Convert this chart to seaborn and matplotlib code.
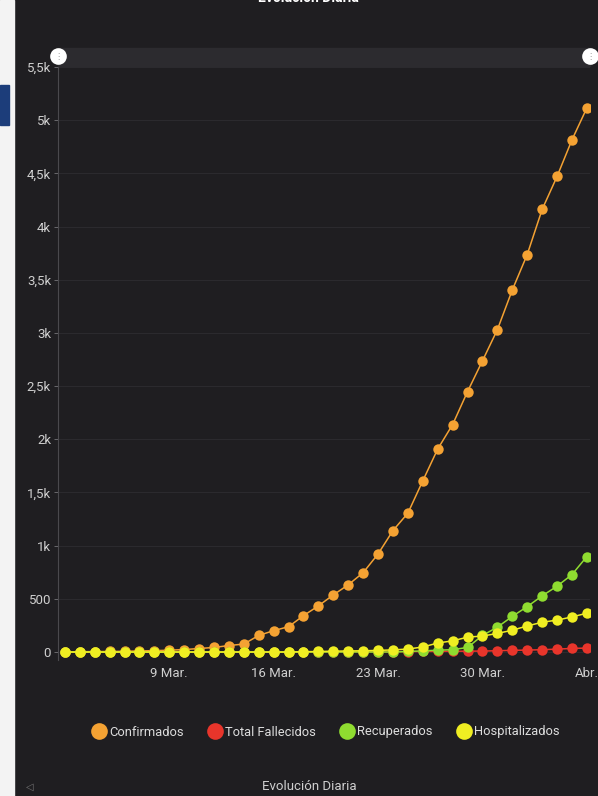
import matplotlib.pyplot as plt
import matplotlib.patches as mpatches
from matplotlib.lines import Line2D
import seaborn as sns
import pandas as pd

# daily values (2 Mar .. 6 Abr)
fechas = pd.date_range('2020-03-02', '2020-04-06', freq='D')
confirmados = [1, 3, 4, 5, 7, 10, 13, 17, 23, 33, 43, 61, 75, 156, 201, 238, 342, 434,
               537, 632, 746, 922, 1142, 1306, 1610, 1909, 2139, 2449, 2738, 3031, 3404,
               3737, 4161, 4471, 4815, 5116]
fallecidos = [0] * 18 + [1, 1, 2, 2, 3, 4, 5, 6, 7, 8, 9, 12, 16, 18, 22, 27, 34, 37]
recuperados = [0] * 23 + [5, 11, 17, 22, 43, 156, 234, 335, 427, 528, 619, 728, 898]
hospitalizados = [0] * 16 + [3, 5, 8, 10, 12, 15, 20, 28, 47, 85, 105, 140, 150, 175,
                             205, 245, 280, 300, 330, 365]

series = ['Confirmados', 'Total Fallecidos', 'Recuperados', 'Hospitalizados']
colores = ['#f4a233', '#e8352b', '#8fdc30', '#f0ee22']

yticks = list(range(0, 5501, 500))
ylabels = ['0', '500', '1k', '1,5k', '2k', '2,5k', '3k', '3,5k', '4k', '4,5k', '5k', '5,5k']
xticks = pd.to_datetime(['2020-03-09', '2020-03-16', '2020-03-23', '2020-03-30', '2020-04-06'])
xlabels = ['9 Mar.', '16 Mar.', '23 Mar.', '30 Mar.', 'Abr.']

df = pd.DataFrame({'fecha': fechas, 'Confirmados': confirmados,
                   'Total Fallecidos': fallecidos, 'Recuperados': recuperados,
                   'Hospitalizados': hospitalizados})
df = df.melt(id_vars='fecha', var_name='serie', value_name='casos')

bg = '#1f1e21'
sns.set_theme(style='dark')
plt.rcParams['font.family'] = ['Roboto', 'DejaVu Sans']

W, H = 598, 796
fig = plt.figure(figsize=(W / 100, H / 100), dpi=100)
fig.patch.set_facecolor(bg)
ax = fig.add_axes([58 / W, 1 - 660 / H, (590 - 58) / W, (660 - 67) / H])
ax.set_facecolor(bg)

sns.lineplot(data=df, x='fecha', y='casos', hue='serie', hue_order=series,
             palette=colores, marker='o', markersize=7.5, markeredgewidth=0,
             linewidth=1.1, legend=False, ax=ax)

ax.set_ylim(-75, 5500)
ax.set_xlim(fechas[0] - pd.Timedelta(hours=11), fechas[-1] + pd.Timedelta(hours=5))
ax.set_yticks(yticks)
ax.set_yticklabels(ylabels)
ax.set_xticks(xticks)
ax.set_xticklabels(xlabels)
ax.set_xlabel('')
ax.set_ylabel('')
ax.grid(axis='y', color='#2b2a2e', linewidth=0.8)
ax.grid(axis='x', visible=False)
for s in ['top', 'right', 'bottom']:
    ax.spines[s].set_visible(False)
ax.spines['left'].set_color('#4a494d')
ax.spines['left'].set_linewidth(0.8)
ax.tick_params(axis='y', colors='#cfcfcf', labelsize=9.5, length=3, width=0.7,
               pad=2, left=True, color='#6a696d')
ax.tick_params(axis='x', colors='#cfcfcf', labelsize=9.5, length=0, pad=5)

# range navigator at the top
fig.add_artist(mpatches.Rectangle((58 / W, 1 - 66 / H), (590 - 58) / W, 18 / H,
                                  transform=fig.transFigure, color='#2c2b2f', zorder=0))
for hx in [58, 590]:
    fig.add_artist(Line2D([hx / W], [1 - 56 / H], marker='o', markersize=12,
                          color='white', markeredgewidth=0, transform=fig.transFigure))
    fig.text(hx / W, 1 - 56 / H, '⋮', color='#999999', fontsize=6,
             ha='center', va='center', family='DejaVu Sans')

# left page strip
fig.add_artist(mpatches.Rectangle((0, 0), 14 / W, 1, transform=fig.transFigure,
                                  color='#f3f3f3', zorder=0))
fig.add_artist(mpatches.Rectangle((0, 1 - 125 / H), 9 / W, 40 / H,
                                  transform=fig.transFigure, color='#1c3d7a', zorder=1))

# legend
handles = [Line2D([], [], linestyle='none', marker='o', markersize=12,
                  markeredgewidth=0, color=c) for c in colores]
fig.legend(handles, series, loc='center', bbox_to_anchor=(0.545, 1 - 732 / H),
           ncol=4, frameon=False, handlelength=1, handletextpad=0.3,
           columnspacing=1.9, labelcolor='#dddddd', fontsize=9.3)

fig.text(0.515, 1.003, 'Evolución Diaria', color='white', fontsize=10,
         fontweight='bold', ha='center', va='center')
fig.text(0.517, 1 - 787 / H, 'Evolución Diaria', color='#cfcfcf', fontsize=9.5,
         ha='center', va='center')
fig.text(30 / W, 1 - 787 / H, '◁', color='#777777', fontsize=7,
         ha='center', va='center', family='DejaVu Sans')

fig.savefig('out.png', dpi=100, facecolor=bg)
